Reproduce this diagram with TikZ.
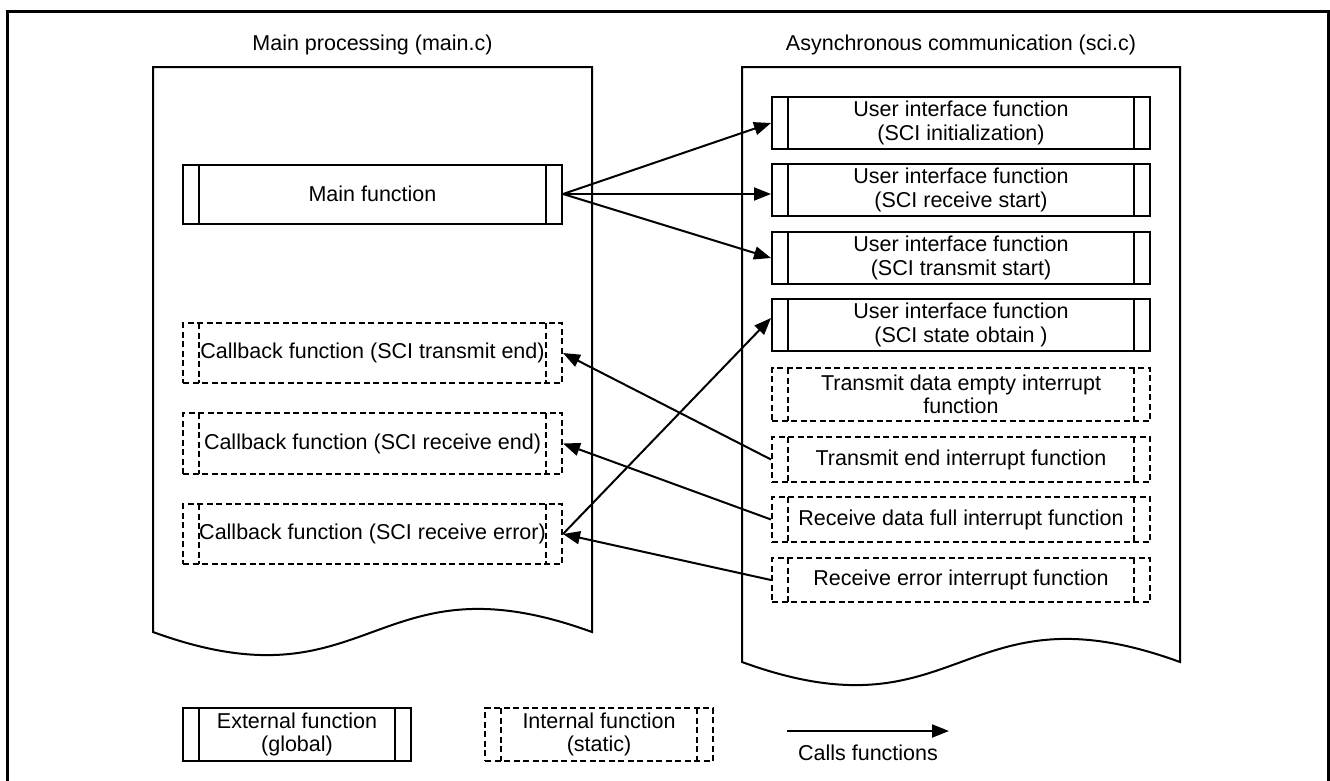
\documentclass[tikz,border=0pt]{standalone}
\usepackage{fontspec}
\setmainfont{Liberation Sans}
\usetikzlibrary{arrows.meta,calc}
\tikzset{
  ln/.style={line width=2pt},
  dsh/.style={dash pattern=on 6pt off 3.5pt},
  bars/.style={path picture={\draw[line width=2pt,#1]
      ([xshift=16pt]path picture bounding box.north west) -- ([xshift=16pt]path picture bounding box.south west)
      ([xshift=-16pt]path picture bounding box.north east) -- ([xshift=-16pt]path picture bounding box.south east);}},
  extf/.style={draw, ln, inner sep=0pt, align=center, bars=solid},
  intf/.style={draw, ln, dsh, inner sep=0pt, align=center, bars=dsh},
  arr/.style={ln, -{Triangle[length=17pt,width=13pt]}},
  doc/.style={ln, line join=miter}
}
\begin{document}
\begin{tikzpicture}[x=1pt,y=-1pt,font=\fontsize{21.5}{23.5}\selectfont]
\useasboundingbox (0,0) rectangle (1330,780);
% outer frame
\draw[line width=3pt] (7,11) rectangle (1328.5,786);
% documents
\draw[doc] (153,67) -- (592,67) -- (592,632) .. controls (372.5,552) and (372.5,712) .. (153,632) -- cycle;
\draw[doc] (742,67) -- (1180,67) -- (1180,662) .. controls (961,582) and (961,742) .. (742,662) -- cycle;
% titles
\node[anchor=base] (t1) at (372.5,50) {Main processing (main.c)};
\node[anchor=base] (t2) at (961,50) {Asynchronous communication (sci.c)};
% left side
\node[extf, minimum width=379pt, minimum height=59pt] (mainf) at (372.5,194) {Main function};
\node[intf, minimum width=379pt, minimum height=60pt] (cb1) at (372.5,353) {Callback function (SCI transmit end)};
\node[intf, minimum width=379pt, minimum height=61pt] (cb2) at (372.5,443.5) {Callback function (SCI receive end)};
\node[intf, minimum width=379pt, minimum height=60pt] (cb3) at (372.5,534) {Callback function (SCI receive error)};
% right side
\node[extf, minimum width=378pt, minimum height=52pt] (ui1) at (961,123) {User interface function\\(SCI initialization)};
\node[extf, minimum width=378pt, minimum height=52pt] (ui2) at (961,190) {User interface function\\(SCI receive start)};
\node[extf, minimum width=378pt, minimum height=52pt] (ui3) at (961,258) {User interface function\\(SCI transmit start)};
\node[extf, minimum width=378pt, minimum height=52pt] (ui4) at (961,325) {User interface function\\(SCI state obtain )};
\node[intf, minimum width=378pt, minimum height=53pt] (it1) at (961,394.5) {Transmit data empty interrupt\\function};
\node[intf, minimum width=378pt, minimum height=45pt] (it2) at (961,459.5) {Transmit end interrupt function};
\node[intf, minimum width=378pt, minimum height=45pt] (it3) at (961,519.5) {Receive data full interrupt function};
\node[intf, minimum width=378pt, minimum height=44pt] (it4) at (961,580) {Receive error interrupt function};
% arrows
\draw[arr] (mainf.east) -- (ui1.west);
\draw[arr] (mainf.east) -- (mainf.east -| ui2.west);
\draw[arr] (mainf.east) -- (ui3.west);
\draw[arr] (cb3.east) -- ([yshift=7pt]ui4.west);
\draw[arr] (it2.west) -- (cb1.east);
\draw[arr] (it3.west) -- (cb2.east);
\draw[arr] (it4.west) -- (cb3.east);
% legend
\node[extf, minimum width=228pt, minimum height=53pt] (lext) at (297,734.5) {External function\\(global)};
\node[intf, minimum width=228pt, minimum height=53pt] (lint) at (599,734.5) {Internal function\\(static)};
\coordinate (la) at (787,731);
\coordinate (lb) at (949,731);
\draw[arr] (la) -- (lb);
\node[anchor=base] (lbl) at (868,760) {Calls functions};
\end{tikzpicture}
\end{document}
